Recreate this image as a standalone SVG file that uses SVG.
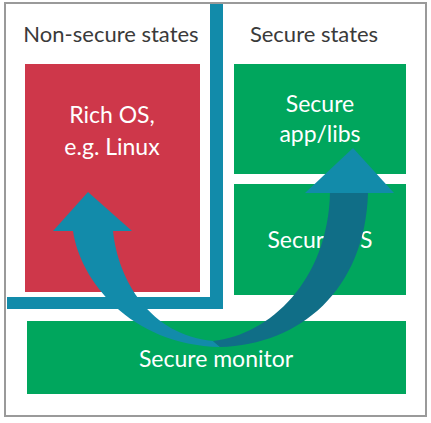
<svg xmlns="http://www.w3.org/2000/svg" width="431" height="423" viewBox="0 0 431 423">
<style>
.title{font-family:Lato,"Open Sans",sans-serif;font-size:22px;fill:#3a3a3a;text-anchor:middle}
.lbl{font-family:Lato,"Open Sans",sans-serif;font-size:23px;fill:#ffffff;text-anchor:middle}
.green{fill:#00A65D}
.red{fill:#CE374A}
.blue{fill:#128BAA}
.dark{fill:#106E87}
</style>
<rect x="5" y="3" width="421" height="413" fill="#ffffff" stroke="#9a9a9a" stroke-width="2"/>
<g id="divider">
<rect class="blue" x="210" y="4" width="13" height="305"/>
<rect class="blue" x="7" y="297" width="216" height="12"/>
</g>
<g id="titles">
<text class="title" x="111" y="42">Non-secure states</text>
<text class="title" x="314" y="42">Secure states</text>
</g>
<g id="rich-os">
<rect class="red" x="25" y="64" width="175" height="228"/>
<text class="lbl" x="112" y="123">Rich OS,</text>
<text class="lbl" x="112" y="155">e.g. Linux</text>
</g>
<g id="secure-app">
<rect class="green" x="234" y="64" width="172" height="110"/>
<text class="lbl" x="320" y="112">Secure</text>
<text class="lbl" x="320" y="142">app/libs</text>
</g>
<g id="secure-os">
<rect class="green" x="234" y="184" width="172" height="111"/>
<text class="lbl" x="320" y="248">Secure OS</text>
</g>
<g id="secure-monitor">
<rect class="green" x="27" y="321" width="379" height="73"/>
<text class="lbl" x="216" y="367">Secure monitor</text>
</g>
<g id="connectors">
<path class="blue" d="M73,231 C80,280 130,345 220,347 L213,341 C150,335 118,280 113,231 Z"/>
<polygon class="blue" points="88,192 132,231 53,231"/>
<path class="dark" d="M213,341 C270,335 328,280 330,193 L368,193 C365,290 300,345 220,347 Z"/>
<polygon class="blue" points="353,148 394,193 305,193"/>
</g>
</svg>
